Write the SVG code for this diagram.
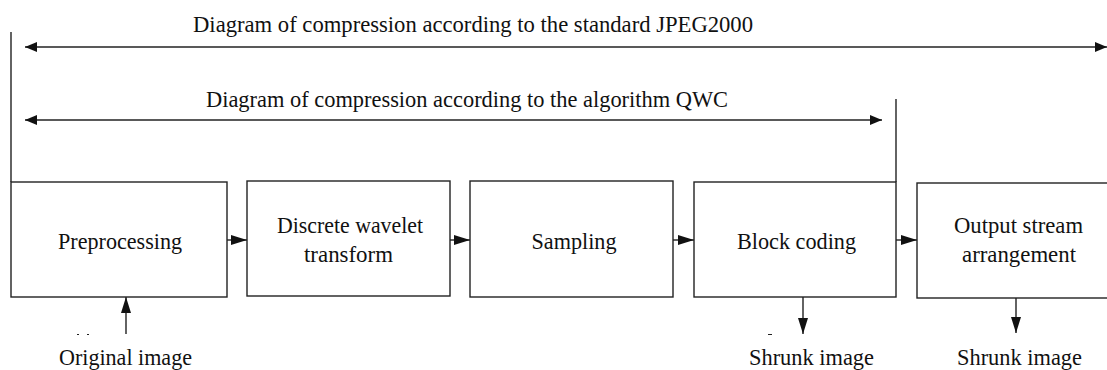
<svg xmlns="http://www.w3.org/2000/svg" width="1107" height="370" viewBox="0 0 1107 370">
<style>
.box{fill:#fff;stroke:#222;stroke-width:1.4}
.ln{stroke:#222;stroke-width:1.4;fill:none}
.t{font-family:"Liberation Serif","Times New Roman",serif;font-size:24px;fill:#111;text-anchor:middle}
</style>
<defs>
<marker id="ah" viewBox="0 0 16 10" refX="16" refY="5" markerWidth="16" markerHeight="10" markerUnits="userSpaceOnUse" orient="auto-start-reverse">
<path d="M0,0 L16,5 L0,10 Z" fill="#111"/>
</marker>
<marker id="ahs" viewBox="0 0 12 10" refX="12" refY="5" markerWidth="12" markerHeight="10" markerUnits="userSpaceOnUse" orient="auto-start-reverse">
<path d="M0,0 L12,5 L0,10 Z" fill="#111"/>
</marker>
</defs>
<rect width="1107" height="370" fill="#fff"/>
<g id="connectors">
<line class="ln" x1="11" y1="32" x2="11" y2="182"/>
<line class="ln" x1="896" y1="99" x2="896" y2="182"/>
<line class="ln" x1="25" y1="47" x2="1107" y2="47" marker-start="url(#ahs)" marker-end="url(#ahs)"/>
<line class="ln" x1="25" y1="120" x2="882" y2="120" marker-start="url(#ahs)" marker-end="url(#ahs)"/>
<line class="ln" x1="227" y1="240" x2="247" y2="240" marker-end="url(#ah)"/>
<line class="ln" x1="450" y1="240" x2="470" y2="240" marker-end="url(#ah)"/>
<line class="ln" x1="673" y1="240" x2="694" y2="240" marker-end="url(#ah)"/>
<line class="ln" x1="896" y1="240" x2="917" y2="240" marker-end="url(#ah)"/>
<line class="ln" x1="126" y1="334" x2="126" y2="297" marker-end="url(#ah)"/>
<line class="ln" x1="803" y1="297" x2="803" y2="334" marker-end="url(#ah)"/>
<line class="ln" x1="1016" y1="298" x2="1016" y2="333" marker-end="url(#ah)"/>
</g>
<g id="label-jpeg2000"><text class="t" x="473" y="32" textLength="560" lengthAdjust="spacingAndGlyphs">Diagram of compression according to the standard JPEG2000</text></g>
<g id="label-qwc"><text class="t" x="467" y="107" textLength="522" lengthAdjust="spacingAndGlyphs">Diagram of compression according to the algorithm QWC</text></g>
<g id="preprocessing"><rect class="box" x="11" y="182" width="216" height="115"/><text class="t" x="120" y="249" textLength="124" lengthAdjust="spacingAndGlyphs">Preprocessing</text></g>
<g id="dwt"><rect class="box" x="247" y="181" width="203" height="115"/><text class="t" x="350" y="233" textLength="146" lengthAdjust="spacingAndGlyphs">Discrete wavelet</text><text class="t" x="348.5" y="262" textLength="89" lengthAdjust="spacingAndGlyphs">transform</text></g>
<g id="sampling"><rect class="box" x="470" y="181" width="203" height="116"/><text class="t" x="574" y="249" textLength="85" lengthAdjust="spacingAndGlyphs">Sampling</text></g>
<g id="block-coding"><rect class="box" x="694" y="182" width="202" height="115"/><text class="t" x="796.5" y="249" textLength="119" lengthAdjust="spacingAndGlyphs">Block coding</text></g>
<g id="output-stream"><rect class="box" x="917" y="183" width="205" height="115"/><text class="t" x="1018.5" y="233" textLength="129" lengthAdjust="spacingAndGlyphs">Output stream</text><text class="t" x="1019" y="262" textLength="114" lengthAdjust="spacingAndGlyphs">arrangement</text></g>
<g id="original-image"><text class="t" x="125.5" y="365" textLength="133" lengthAdjust="spacingAndGlyphs">Original image</text></g>
<g id="shrunk1"><text class="t" x="811.5" y="365" textLength="125" lengthAdjust="spacingAndGlyphs">Shrunk image</text></g>
<g id="shrunk2"><text class="t" x="1019.5" y="365" textLength="125" lengthAdjust="spacingAndGlyphs">Shrunk image</text></g>
<g id="artifacts" fill="#222"><rect x="77" y="334" width="2" height="1"/><rect x="87" y="334" width="2" height="1"/><rect x="768" y="334" width="4" height="1"/></g>
</svg>
